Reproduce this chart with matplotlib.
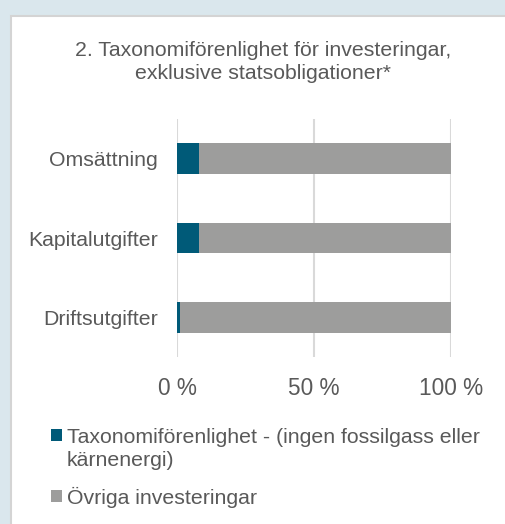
import matplotlib.pyplot as plt
from matplotlib.patches import Rectangle, Patch

plt.rcParams['font.family'] = ['Liberation Sans', 'DejaVu Sans']

# Data
categories = ['Omsättning', 'Kapitalutgifter', 'Driftsutgifter']
aligned = [8.0, 8.0, 1.0]
other = [92.0, 92.0, 99.0]
series_labels = ['Taxonomiförenlighet - (ingen fossilgass eller\nkärnenergi)',
                 'Övriga investeringar']
xticks = [0, 50, 100]
xtick_labels = ['0 %', '50 %', '100 %']

blue = '#005a78'
grey = '#9d9d9c'
text_col = '#595959'

W, H = 506, 524
fig = plt.figure(figsize=(W / 100, H / 100), dpi=100)
fig.patch.set_facecolor('#dae7ed')

# white panel
panel = Rectangle((11 / W, -0.01), 1, 1.01 - 16 / H, transform=fig.transFigure,
                  facecolor='white', edgecolor='#d4d4d4', linewidth=1.5, zorder=-10)
fig.patches.append(panel)

ax = fig.add_axes([177 / W, 1 - 357 / H, (451 - 177) / W, (357 - 119) / H])
ax.set_facecolor('none')

ypos = list(range(len(categories)))
ax.barh(ypos, aligned, height=0.39, color=blue, zorder=3)
ax.barh(ypos, other, left=aligned, height=0.39, color=grey, zorder=3)

ax.set_xlim(0, 100)
ax.set_ylim(len(categories) - 0.5, -0.5)
ax.set_yticks(ypos)
ax.set_yticklabels(categories, fontsize=15.3, color=text_col)
ax.set_xticks(xticks)
ax.set_xticklabels(xtick_labels, fontsize=16.3, color=text_col)
ax.tick_params(axis='both', length=0)
ax.tick_params(axis='y', pad=13.5)
ax.tick_params(axis='x', pad=14.5)
for s in ax.spines.values():
    s.set_visible(False)
ax.grid(axis='x', color='#d9d9d9', linewidth=1.5, zorder=1)
ax.set_axisbelow(True)

fig.text(263 / W, 1 - 62 / H,
         '2. Taxonomiförenlighet för investeringar,\nexklusive statsobligationer*',
         ha='center', va='center', fontsize=15.3, color=text_col, linespacing=1.27)

handles = [Patch(facecolor=blue), Patch(facecolor=grey)]
leg = fig.legend(handles, series_labels, loc='upper left',
                 bbox_to_anchor=(32 / W, 1 - 409 / H), frameon=False,
                 fontsize=15.3, labelcolor=text_col, handlelength=0.5,
                 handleheight=0.5, handletextpad=0.25, labelspacing=0.8)
for t in leg.get_texts():
    t.set_linespacing(1.25)
# keep the first marker level with the first text line
h0 = leg.legend_handles[0]
h0.set_y(h0.get_y() + 10)

fig.savefig('out.png', dpi=100, facecolor=fig.get_facecolor())
